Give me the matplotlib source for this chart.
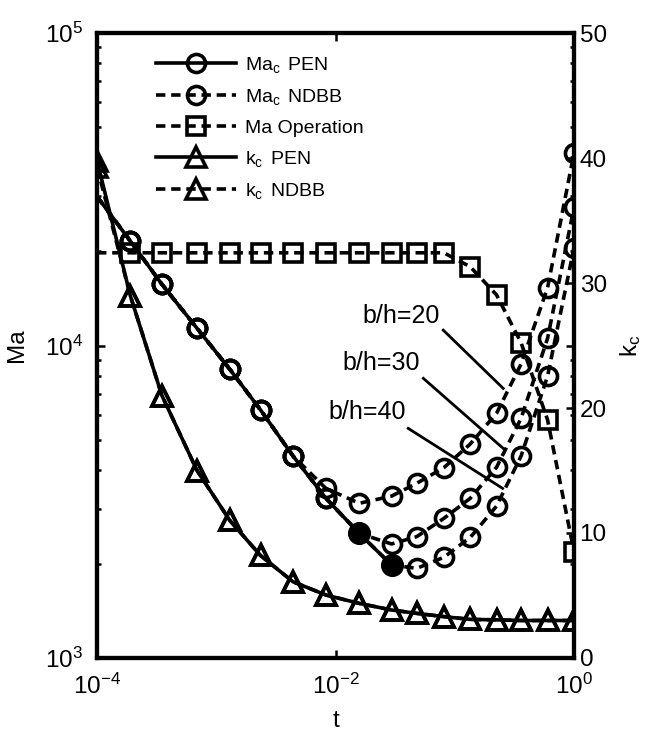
import matplotlib.pyplot as plt
from matplotlib.ticker import LogLocator, FixedLocator, NullLocator, NullFormatter

plt.rcParams['font.family'] = ['Liberation Sans', 'DejaVu Sans']
plt.rcParams['mathtext.fontset'] = 'custom'
plt.rcParams['mathtext.rm'] = 'Liberation Sans'
plt.rcParams['mathtext.it'] = 'Liberation Sans'
plt.rcParams['axes.unicode_minus'] = False

# thickness t, shared by every series
t = [1e-4, 1.9e-4, 3.5e-4, 6.9e-4, 1.3e-3, 2.35e-3, 4.4e-3, 8.3e-3, 0.0158,
     0.0295, 0.048, 0.081, 0.135, 0.224, 0.36, 0.6, 1.0]

# critical Marangoni number, PEN model (ends where the NDBB branches leave it)
ma_pen = [30000, 21600, 15700, 11350, 8390, 6220, 4430, 3245, 2505, 1985]
# NDBB branches for b/h = 20, 30, 40
ma_ndbb20 = ma_pen[:7] + [3490, 3126, 3296, 3623, 4064, 4842, 6068, 8730, 15300, 41300]
ma_ndbb30 = ma_pen[:9] + [2317, 2445, 2798, 3245, 4077, 5850, 10540, 27670]
ma_ndbb40 = ma_pen[:10] + [1936, 2100, 2432, 3062, 4430, 7980, 20560]
# branch points
t_branch = [0.0158, 0.0295]
ma_branch = [2505, 1985]
# operating Marangoni number
ma_oper = [19800] * 12 + [17860, 14520, 10200, 5780, 2190]
# critical wavenumber
kc_pen = [39.8, 29.0, 21.0, 15.0, 11.0, 8.2, 6.1, 5.04, 4.37, 3.84, 3.57, 3.31,
          3.09, 3.05, 3.0, 3.0, 3.0]
kc_ndbb = [39.3] + kc_pen[1:]

lw = 2.6
ms = 13
dash = (2.6, 1.6)

fig = plt.figure(figsize=(6.52, 7.32), dpi=100)
ax = fig.add_axes([0.1488, 0.1011, 0.7316, 0.8538])
ax2 = ax.twinx()

h1, = ax.plot(t[:len(ma_pen)], ma_pen, 'k-', marker='o', ms=ms, mfc='none', mew=lw,
              lw=lw, markevery=list(range(1, len(ma_pen))), label='Ma$_\\mathrm{c}\\,$ PEN')
h2 = None
for ma in (ma_ndbb20, ma_ndbb30, ma_ndbb40):
    h2, = ax.plot(t, ma, 'k--', dashes=dash, marker='o', ms=ms, mfc='none', mew=lw,
                  lw=lw, markevery=list(range(1, len(t))), label='Ma$_\\mathrm{c}\\,$ NDBB')
ax.plot(t_branch, ma_branch, 'ko', ms=ms + 1, mfc='k', mew=lw)
h3, = ax.plot(t, ma_oper, 'k--', dashes=dash, marker='s', ms=ms, mfc='none', mew=lw,
              lw=lw, markevery=list(range(1, len(t))), label='Ma Operation')

h4, = ax2.plot(t, kc_pen, 'k-', marker='^', ms=ms + 2, mfc='none', mew=lw, lw=lw,
               label='k$_\\mathrm{c}\\,$ PEN')
h5, = ax2.plot(t, kc_ndbb, 'k--', dashes=dash, marker='^', ms=ms + 2, mfc='none',
               mew=lw, lw=lw, label='k$_\\mathrm{c}\\,$ NDBB')

# b/h labels with leader lines
notes = [('b/h=20', 0.0354, 12400, (0.080, 11200), (0.255, 7290)),
         ('b/h=30', 0.0240, 8810, (0.0545, 7850), (0.259, 4660)),
         ('b/h=40', 0.0185, 6110, (0.0407, 5430), (0.252, 3490))]
for txt, tx, ty, p0, p1 in notes:
    ax.text(tx, ty, txt, fontsize=18, ha='center', va='center')
    ax.plot([p0[0], p1[0]], [p0[1], p1[1]], 'k-', lw=2.0)

ax.set_xscale('log')
ax.set_yscale('log')
ax.set_xlim(1e-4, 1)
ax.set_ylim(1e3, 1e5)
ax2.set_ylim(0, 50)

ax.xaxis.set_major_locator(FixedLocator([1e-4, 1e-2, 1]))
ax.xaxis.set_minor_locator(NullLocator())
ax.yaxis.set_major_locator(LogLocator(base=10))
ax.yaxis.set_minor_locator(LogLocator(base=10, subs=range(2, 10)))
ax.yaxis.set_minor_formatter(NullFormatter())
ax2.yaxis.set_major_locator(FixedLocator([0, 10, 20, 30, 40, 50]))

ax.tick_params(which='both', direction='in', top=True, right=True, width=1.8,
               labelsize=17.5)
ax.tick_params(which='major', length=6)
ax.tick_params(which='minor', length=3)
ax.tick_params(axis='y', pad=10)
ax.tick_params(axis='x', pad=11)
ax2.tick_params(direction='in', length=6, width=1.8, labelsize=17.5, pad=4)

for a in (ax, ax2):
    for s in a.spines.values():
        s.set_linewidth(3.0)

ax.set_xlabel('t', fontsize=17.5, labelpad=8)
ax.set_ylabel('Ma', fontsize=17.5, labelpad=12)
ax2.set_ylabel('k$_\\mathrm{c}$', fontsize=17.5, labelpad=8)

ax2.legend([h1, h2, h3, h4, h5], [h.get_label() for h in (h1, h2, h3, h4, h5)],
           loc='upper left', bbox_to_anchor=(156 / 652, 1 - 55 / 732),
           bbox_transform=fig.transFigure, frameon=False, fontsize=14,
           handlelength=4.1, handletextpad=0.5, labelspacing=0.62,
           borderpad=0, borderaxespad=0)

fig.savefig('out.png', dpi=100)
